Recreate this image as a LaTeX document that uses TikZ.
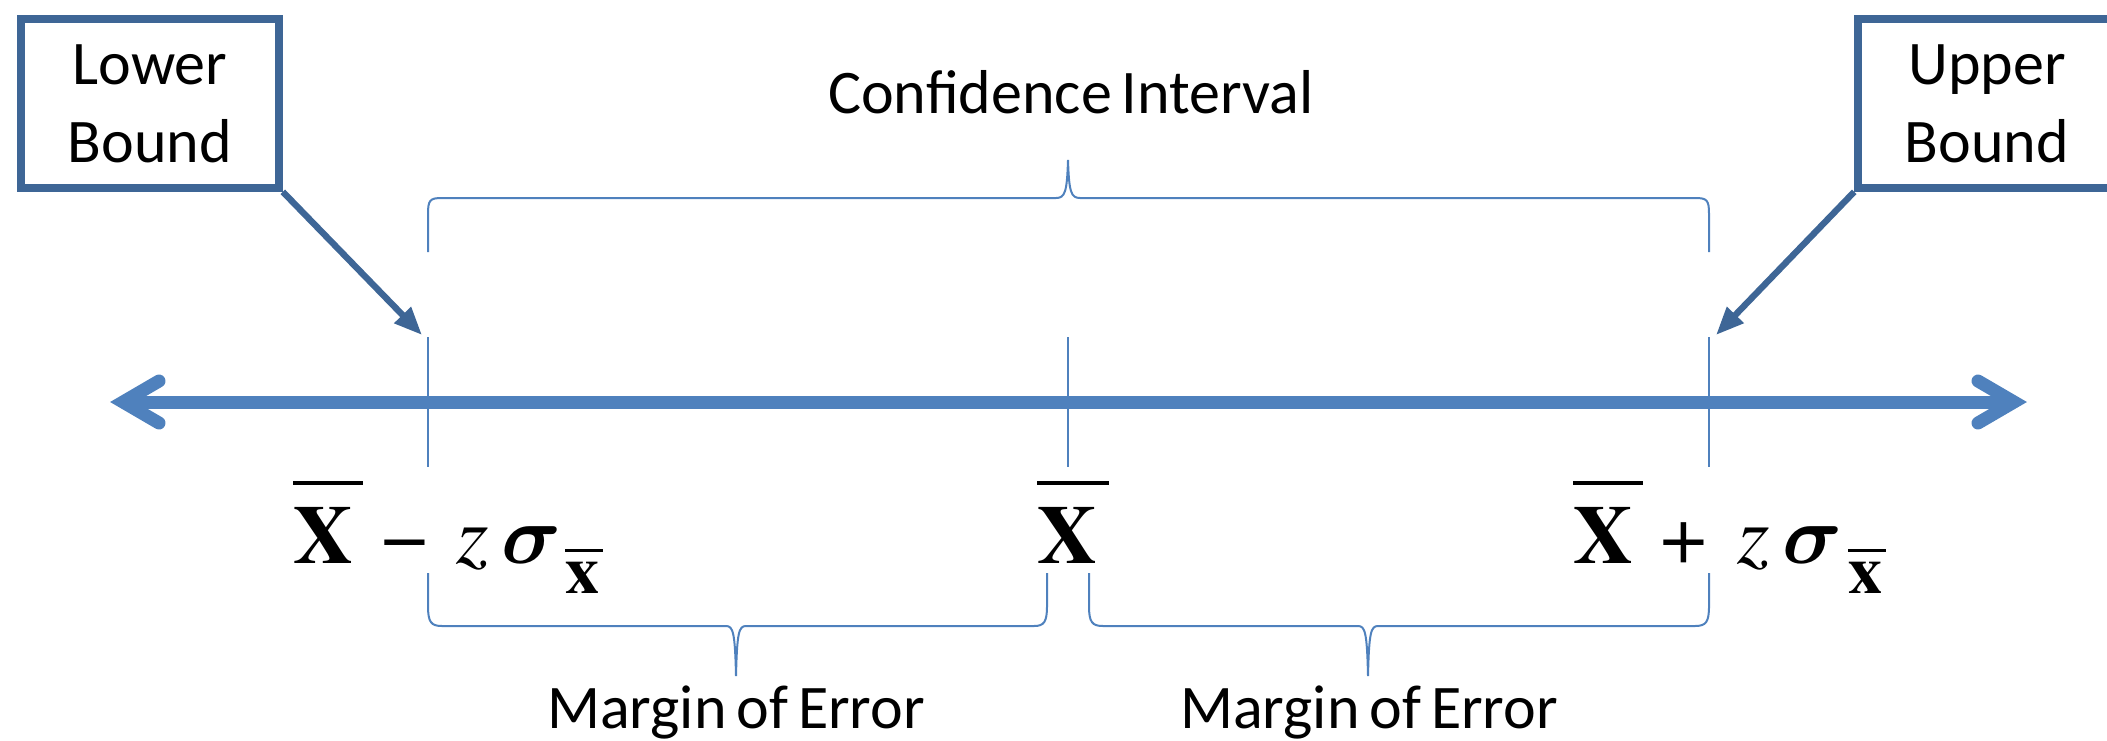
\documentclass[tikz,border=0pt]{standalone}
\usepackage{amsmath}
\usepackage{graphicx}
\usepackage{fontspec}
\setmainfont{Carlito}
\newfontfamily\timesfam{texgyretermes}[Extension=.otf, UprightFont=*-regular, BoldFont=*-bold, ItalicFont=*-italic, BoldItalicFont=*-bolditalic]
\usetikzlibrary{arrows.meta}
\definecolor{axisblue}{RGB}{79,129,189}
\definecolor{boxblue}{RGB}{62,102,150}
\newcommand\fmbig{\timesfam\fontsize{41.5}{48}\selectfont}
\newcommand\fmsmall{\timesfam\fontsize{34}{40}\selectfont}
\newcommand\bigsigma{{\fontsize{10}{12}\selectfont\scalebox{4.15}{$\boldsymbol{\sigma}$}}}
\begin{document}
\begin{tikzpicture}[x=0.5pt,y=-0.5pt,
  boundbox/.style={draw=boxblue, line width=3.8pt, fill=white, minimum width=129pt, minimum height=84.5pt, inner sep=0pt, align=center, font=\fontsize{31}{39}\selectfont},
  callarrow/.style={draw=boxblue, fill=boxblue, line width=3.2pt, -{Triangle[length=14pt,width=11pt]}},
  axisline/.style={draw=axisblue, line width=6.5pt},
  thinline/.style={draw=axisblue, line width=1pt},
  lbl/.style={anchor=base, inner sep=0pt, font=\fontsize{31}{39}\selectfont},
  fm/.style={anchor=base west, inner sep=0pt}]
\useasboundingbox (0,0) rectangle (2107,740);
\clip (0,0) rectangle (2107,740);
% axis
\coordinate (axL) at (123,402);
\coordinate (axR) at (2014,402);
\coordinate (axLa) at (159,381);
\coordinate (axLb) at (159,423);
\coordinate (axRa) at (1978,381);
\coordinate (axRb) at (1978,423);
\draw[axisline] (axL) -- (axR);
\draw[axisline, line cap=round, line join=miter] (axLa) -- (axL) -- (axLb);
\draw[axisline, line cap=round, line join=miter] (axRa) -- (axR) -- (axRb);
% ticks
\foreach \n/\x in {lo/428, mid/1068, up/1709} {
  \coordinate (t\n a) at (\x,337);
  \coordinate (t\n b) at (\x,467);
  \draw[thinline] (t\n a) -- (t\n b);
}
% bound boxes
\node[boundbox] (lb) at (150,103.5) {Lower\\Bound};
\node[boundbox] (ub) at (1987,103.5) {Upper\\Bound};
\coordinate (lbtip) at (422,335);
\coordinate (ubtip) at (1716,335);
\draw[callarrow] (lb.south east) -- (lbtip);
\draw[callarrow] (ub.south west) -- (ubtip);
% top brace
\coordinate (tbL) at (428,252);
\coordinate (tbR) at (1709,252);
\coordinate (tbTip) at (1068,160);
\draw[thinline] (tbL) -- (428,214) .. controls (428,200) and (430,198) .. (442,198)
  -- (1056,198) .. controls (1065,198) and (1067,192) .. (tbTip)
  .. controls (1069,192) and (1071,198) .. (1080,198)
  -- (1695,198) .. controls (1707,198) and (1709,200) .. (1709,214) -- (tbR);
% bottom left brace
\coordinate (blL) at (428,573);
\coordinate (blR) at (1047,573);
\coordinate (blTip) at (736,676);
\draw[thinline] (blL) -- (428,606) .. controls (428,622) and (431,626) .. (442,626)
  -- (726,626) .. controls (733,626) and (735,632) .. (blTip)
  .. controls (737,632) and (739,626) .. (746,626)
  -- (1034,626) .. controls (1044,626) and (1047,622) .. (1047,606) -- (blR);
% bottom right brace
\coordinate (brL) at (1089,573);
\coordinate (brR) at (1709,573);
\coordinate (brTip) at (1368,676);
\draw[thinline] (brL) -- (1089,606) .. controls (1089,622) and (1092,626) .. (1103,626)
  -- (1358,626) .. controls (1365,626) and (1367,632) .. (brTip)
  .. controls (1369,632) and (1371,626) .. (1378,626)
  -- (1695,626) .. controls (1706,626) and (1709,622) .. (1709,606) -- (brR);
% labels
\node[lbl] (ci) at (1071,113) {\spaceskip=5pt plus 1pt Confidence Interval};
\node[lbl] (me1) at (736,728) {\spaceskip=5pt plus 1pt Margin of Error};
\node[lbl] (me2) at (1369,728) {\spaceskip=5pt plus 1pt Margin of Error};
% left formula
\node[fm] (xb1) at (293,563) {\fmbig\rlap{\raisebox{39pt}{\rule{35pt}{2pt}}}\textbf{X}};
\node[fm] (op1) at (381,563) {\fmbig −};
\node[fm] (z1) at (456,563) {\fmbig\textit{z}};
\node[fm] (s1) at (501,563) {\bigsigma};
\node[fm] (sub1) at (565,593) {\fmsmall\rlap{\raisebox{20.5pt}{\rule{19pt}{1.5pt}}}\textbf{x}};
% centre
\node[fm] (xb2) at (1037,563) {\fmbig\rlap{\raisebox{39pt}{\rule{36pt}{2pt}}}\textbf{X}};
% right formula
\node[fm] (xb3) at (1573,563) {\fmbig\rlap{\raisebox{39pt}{\rule{35pt}{2pt}}}\textbf{X}};
\node[fm] (op3) at (1660,563) {\fmbig +};
\node[fm] (z3) at (1737,563) {\fmbig\textit{z}};
\node[fm] (s3) at (1782,563) {\bigsigma};
\node[fm] (sub3) at (1848,593) {\fmsmall\rlap{\raisebox{20.5pt}{\rule{19pt}{1.5pt}}}\textbf{x}};
\end{tikzpicture}
\end{document}
